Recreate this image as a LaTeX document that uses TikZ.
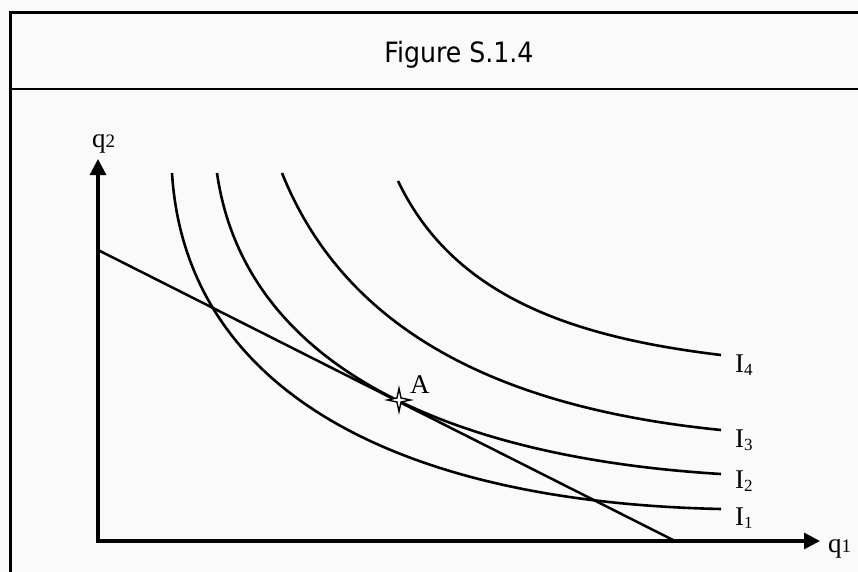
\documentclass[tikz,border=0pt]{standalone}
\usepackage{fontspec}
\setmainfont{Liberation Serif}
\newfontfamily\titlefont[FakeStretch=0.9]{DejaVu Sans}
\usetikzlibrary{arrows.meta, positioning, shapes.geometric}
\definecolor{paper}{RGB}{250,250,250}
\tikzset{
  axis/.style={line width=3.2pt, {Triangle[length=16pt,width=16pt]}-{Triangle[length=16pt,width=16pt]}},
  icurve/.style={line width=2.6pt},
  lab/.style={anchor=base west, inner sep=0pt, font=\fontsize{27}{27}\selectfont},
}
\newcommand{\isub}[1]{\raisebox{-3pt}{\fontsize{17}{17}\selectfont #1}}
\newcommand{\qsub}[1]{{\fontsize{19}{19}\selectfont #1}}

\begin{document}
\begin{tikzpicture}[x=1pt, y=-1pt]
    % Frame
    \fill[paper] (0,0) rectangle (858,572);
    \useasboundingbox (0,0) rectangle (858,572);
    \draw[line width=3pt] (10,600) -- (10,13) -- (880,13);
    \draw[line width=2.6pt] (10,89) -- (880,89);
    \node[font=\titlefont\fontsize{28}{28}\selectfont, anchor=base] (title) at (459,63) {Figure S.1.4};

    % Points
    \coordinate (O) at (98,541);
    \coordinate (q2top) at (98,159);
    \coordinate (q1end) at (820,541);
    \coordinate (b1) at (98,250);
    \coordinate (b2) at (675,541);

    % Axes
    \draw[axis] (q2top) -- (O) -- (q1end);

    % Indifference curves
    \draw[icurve] (172,173) .. controls (185,383) and (385,502) .. (721,509);
    \draw[icurve] (217,173) .. controls (244,362) and (441,457) .. (721,474);
    \draw[icurve] (282,173) .. controls (350,343) and (521,410) .. (721,430);
    \draw[icurve] (398,181) .. controls (453,296) and (571,337) .. (721,355);

    % Budget line
    \draw[line width=2.5pt] (b1) -- (b2);

    % Tangency point
    \node[draw, fill=white, star, star points=4, star point ratio=4, minimum size=23pt, inner sep=0pt, line width=1.4pt] (A) at (399,400) {};

    % Labels
    \node[lab] (Alab) at (410,393) {A};
    \node[lab] (I4lab) at (735,372) {I\isub{4}};
    \node[lab] (I3lab) at (735,447) {I\isub{3}};
    \node[lab] (I2lab) at (735,488) {I\isub{2}};
    \node[lab] (I1lab) at (735,525) {I\isub{1}};
    \node[lab] (q2lab) at (92,148) {q\qsub{2}};
    \node[lab] (q1lab) at (828,552) {q\qsub{1}};
\end{tikzpicture}
\end{document}
